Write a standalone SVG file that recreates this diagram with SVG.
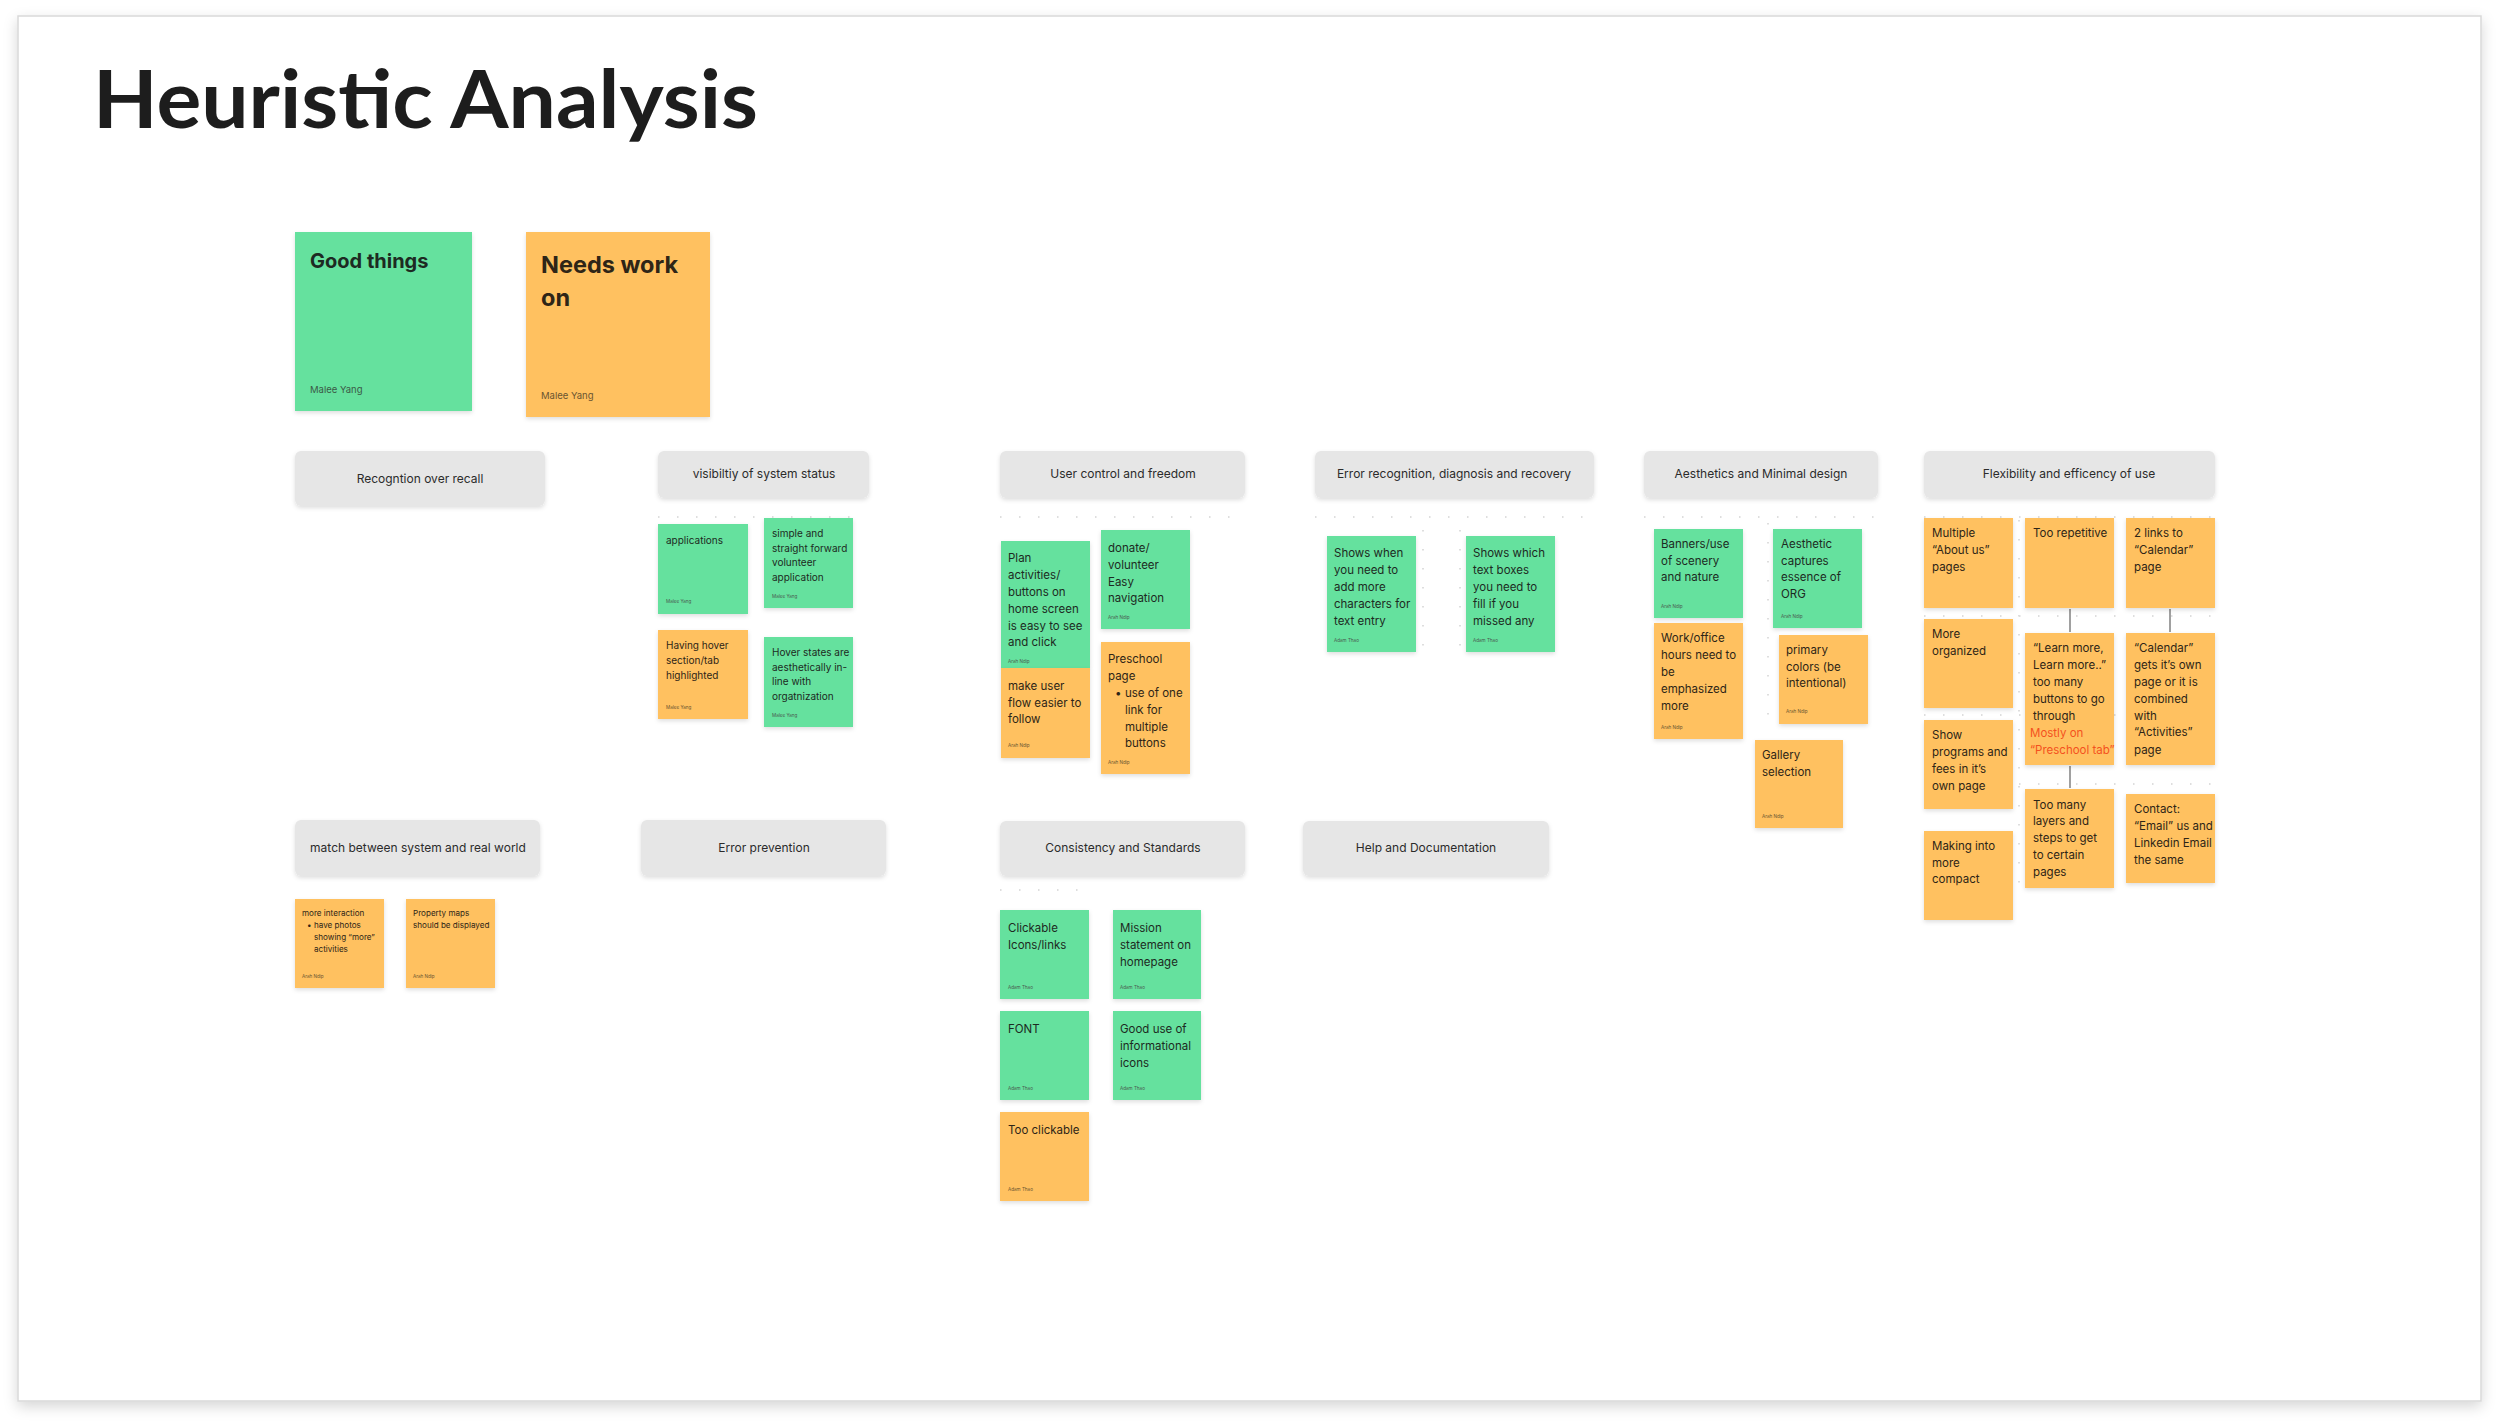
<svg xmlns="http://www.w3.org/2000/svg" width="2500" height="1422" viewBox="0 0 2500 1422">
<defs>
<filter id="fs" x="-20%" y="-20%" width="140%" height="140%"><feDropShadow dx="0" dy="5" stdDeviation="7" flood-color="#000" flood-opacity="0.16"/></filter>
<filter id="ss" x="-20%" y="-20%" width="140%" height="150%"><feDropShadow dx="0" dy="2" stdDeviation="2" flood-color="#000" flood-opacity="0.13"/></filter>
<style>
.g{fill:#65e19e;filter:url(#ss)}
.o{fill:#ffc161;filter:url(#ss)}
.h{fill:#e6e6e6;filter:url(#ss)}
text{font-family:Inter,"Noto Sans","Liberation Sans",sans-serif}
.ht{font-size:12px;fill:#2b2b2b;text-anchor:middle}
.tg{font-size:11.5px;fill:#1d2a22;transform:translateY(3px)}
.to{font-size:11.5px;fill:#2e2517;transform:translateY(3px)}
.sg{font-size:10px;fill:#1d2a22;transform:translateY(2px)}
.so{font-size:10px;fill:#2e2517;transform:translateY(2px)}
.xo{font-size:8.1px;fill:#2e2517;transform:translateY(1px)}
.au{font-size:4.6px;fill:#4a5a4f}
.auo{font-size:4.6px;fill:#6b5530}
.red{fill:#f4511e}
.dots{stroke:#dedede;stroke-width:2;stroke-dasharray:1.5 17.5;fill:none}
.conn{stroke:#a0a0a0;stroke-width:2;fill:none}
</style>
</defs>
<rect width="2500" height="1422" fill="#ffffff"/>
<rect x="18" y="16" width="2463" height="1385" fill="#ffffff" stroke="#d9d9d9" stroke-width="1.5" filter="url(#fs)"/>
<text x="93" y="128" font-family="Lato,'Liberation Sans',sans-serif" font-weight="700" font-size="80" fill="#1d1d1d" textLength="665" lengthAdjust="spacingAndGlyphs" style="font-family:Lato,'Liberation Sans',sans-serif">Heuristic Analysis</text>

<g id="dotgrid">
<path class="dots" d="M658 517H853M1000 517H1235M1315 517H1595M1644 517H1880M1924 517H2215M1000 827H1245M295 827H540M1000 890H1090M1924 616H2215M1924 715H2215M1924 784H2215M1768 523V730M1423 530V660M1460 530V660M2019 520V900"/>
</g>

<g id="legend-good"><rect x="295" y="232" width="177" height="179" class="g"/><text x="310" y="268" font-size="20" font-weight="700" fill="#1d2a22">Good things</text><text x="310" y="393" font-size="9.5" fill="#3b5a47">Malee Yang</text></g>
<g id="legend-needs"><rect x="526" y="232" width="184" height="185" class="o"/><text font-size="23.5" font-weight="700" fill="#2e2517"><tspan x="541" y="273">Needs work</tspan><tspan x="541" y="306">on</tspan></text><text x="541" y="399" font-size="9.5" fill="#6b5530">Malee Yang</text></g>

<g id="h-recognition"><rect x="295" y="451" width="250" height="55" rx="6" class="h"/><text x="420" y="483" class="ht">Recogntion over recall</text></g>
<g id="h-visibility"><rect x="658" y="451" width="211" height="47" rx="6" class="h"/><text x="764" y="478" class="ht">visibiltiy of system status</text></g>
<g id="h-usercontrol"><rect x="1000" y="451" width="245" height="47" rx="6" class="h"/><text x="1123" y="478" class="ht">User control and freedom</text></g>
<g id="h-error-rec"><rect x="1315" y="451" width="279" height="47" rx="6" class="h"/><text x="1454" y="478" class="ht">Error recognition, diagnosis and recovery</text></g>
<g id="h-aesthetics"><rect x="1644" y="451" width="234" height="47" rx="6" class="h"/><text x="1761" y="478" class="ht">Aesthetics and Minimal design</text></g>
<g id="h-flex"><rect x="1924" y="451" width="291" height="47" rx="6" class="h"/><text x="2069" y="478" class="ht">Flexibility and efficency of use</text></g>
<g id="h-match"><rect x="295" y="820" width="245" height="56" rx="6" class="h"/><text x="418" y="852" class="ht">match between system and real world</text></g>
<g id="h-errprev"><rect x="641" y="820" width="245" height="56" rx="6" class="h"/><text x="764" y="852" class="ht">Error prevention</text></g>
<g id="h-consistency"><rect x="1000" y="821" width="245" height="55" rx="6" class="h"/><text x="1123" y="852" class="ht">Consistency and Standards</text></g>
<g id="h-help"><rect x="1303" y="821" width="246" height="55" rx="6" class="h"/><text x="1426" y="852" class="ht">Help and Documentation</text></g>

<g id="s-applications"><rect x="658" y="524" width="90" height="90" class="g"/><text x="666" y="542" class="sg">applications</text><text x="666" y="603" class="au">Malee Yang</text></g>
<g id="s-simple"><rect x="764" y="518" width="89" height="90" class="g"/><text class="sg"><tspan x="772" y="535">simple and</tspan><tspan x="772" y="550">straight forward</tspan><tspan x="772" y="564">volunteer</tspan><tspan x="772" y="579">application</tspan></text><text x="772" y="598" class="au">Malee Yang</text></g>
<g id="s-hover"><rect x="658" y="630" width="90" height="89" class="o"/><text class="so"><tspan x="666" y="647">Having hover</tspan><tspan x="666" y="662">section/tab</tspan><tspan x="666" y="677">highlighted</tspan></text><text x="666" y="709" class="auo">Malee Yang</text></g>
<g id="s-hoverstates"><rect x="764" y="637" width="89" height="90" class="g"/><text class="sg"><tspan x="772" y="654">Hover states are</tspan><tspan x="772" y="669">aesthetically in-</tspan><tspan x="772" y="683">line with</tspan><tspan x="772" y="698">orgatnization</tspan></text><text x="772" y="717" class="au">Malee Yang</text></g>

<g id="s-plan"><rect x="1001" y="541" width="89" height="127" class="g"/><text class="tg"><tspan x="1008" y="559">Plan</tspan><tspan x="1008" y="576">activities/</tspan><tspan x="1008" y="593">buttons on</tspan><tspan x="1008" y="610">home screen</tspan><tspan x="1008" y="627">is easy to see</tspan><tspan x="1008" y="643">and click</tspan></text><text x="1008" y="663" class="au">Arah Ndip</text></g>
<g id="s-flow"><rect x="1001" y="668" width="89" height="90" class="o"/><text class="to"><tspan x="1008" y="687">make user</tspan><tspan x="1008" y="704">flow easier to</tspan><tspan x="1008" y="720">follow</tspan></text><text x="1008" y="747" class="auo">Arah Ndip</text></g>
<g id="s-donate"><rect x="1101" y="530" width="89" height="99" class="g"/><text class="tg"><tspan x="1108" y="549">donate/</tspan><tspan x="1108" y="566">volunteer</tspan><tspan x="1108" y="583">Easy</tspan><tspan x="1108" y="599">navigation</tspan></text><text x="1108" y="619" class="au">Arah Ndip</text></g>
<g id="s-preschool"><rect x="1101" y="642" width="89" height="132" class="o"/><text class="to"><tspan x="1108" y="660">Preschool</tspan><tspan x="1108" y="677">page</tspan><tspan x="1115" y="694">•</tspan><tspan x="1125" y="694">use of one</tspan><tspan x="1125" y="711">link for</tspan><tspan x="1125" y="728">multiple</tspan><tspan x="1125" y="744">buttons</tspan></text><text x="1108" y="764" class="auo">Arah Ndip</text></g>

<g id="s-showswhen"><rect x="1327" y="536" width="89" height="116" class="g"/><text class="tg"><tspan x="1334" y="554">Shows when</tspan><tspan x="1334" y="571">you need to</tspan><tspan x="1334" y="588">add more</tspan><tspan x="1334" y="605">characters for</tspan><tspan x="1334" y="622">text entry</tspan></text><text x="1334" y="642" class="au">Adam Thao</text></g>
<g id="s-showswhich"><rect x="1466" y="536" width="89" height="116" class="g"/><text class="tg"><tspan x="1473" y="554">Shows which</tspan><tspan x="1473" y="571">text boxes</tspan><tspan x="1473" y="588">you need to</tspan><tspan x="1473" y="605">fill if you</tspan><tspan x="1473" y="622">missed any</tspan></text><text x="1473" y="642" class="au">Adam Thao</text></g>

<g id="s-banners"><rect x="1654" y="529" width="89" height="89" class="g"/><text class="tg"><tspan x="1661" y="545">Banners/use</tspan><tspan x="1661" y="562">of scenery</tspan><tspan x="1661" y="578">and nature</tspan></text><text x="1661" y="608" class="au">Arah Ndip</text></g>
<g id="s-aesthetic"><rect x="1773" y="529" width="89" height="99" class="g"/><text class="tg"><tspan x="1781" y="545">Aesthetic</tspan><tspan x="1781" y="562">captures</tspan><tspan x="1781" y="578">essence of</tspan><tspan x="1781" y="595">ORG</tspan></text><text x="1781" y="618" class="au">Arah Ndip</text></g>
<g id="s-work"><rect x="1654" y="623" width="89" height="116" class="o"/><text class="to"><tspan x="1661" y="639">Work/office</tspan><tspan x="1661" y="656">hours need to</tspan><tspan x="1661" y="673">be</tspan><tspan x="1661" y="690">emphasized</tspan><tspan x="1661" y="707">more</tspan></text><text x="1661" y="729" class="auo">Arah Ndip</text></g>
<g id="s-primary"><rect x="1779" y="635" width="89" height="89" class="o"/><text class="to"><tspan x="1786" y="651">primary</tspan><tspan x="1786" y="668">colors (be</tspan><tspan x="1786" y="684">intentional)</tspan></text><text x="1786" y="713" class="auo">Arah Ndip</text></g>
<g id="s-gallery"><rect x="1755" y="740" width="88" height="88" class="o"/><text class="to"><tspan x="1762" y="756">Gallery</tspan><tspan x="1762" y="773">selection</tspan></text><text x="1762" y="818" class="auo">Arah Ndip</text></g>

<g id="connectors">
<path class="conn" d="M2070 609V632M2170 609V632M2070 766V788"/>
</g>

<g id="s-multiple"><rect x="1924" y="518" width="89" height="90" class="o"/><text class="to"><tspan x="1932" y="534">Multiple</tspan><tspan x="1932" y="551">“About us”</tspan><tspan x="1932" y="568">pages</tspan></text></g>
<g id="s-repetitive"><rect x="2025" y="518" width="89" height="90" class="o"/><text class="to"><tspan x="2033" y="534">Too repetitive</tspan></text></g>
<g id="s-2links"><rect x="2126" y="518" width="89" height="90" class="o"/><text class="to"><tspan x="2134" y="534">2 links to</tspan><tspan x="2134" y="551">“Calendar”</tspan><tspan x="2134" y="568">page</tspan></text></g>
<g id="s-organized"><rect x="1924" y="619" width="89" height="89" class="o"/><text class="to"><tspan x="1932" y="635">More</tspan><tspan x="1932" y="652">organized</tspan></text></g>
<g id="s-learnmore"><rect x="2025" y="633" width="89" height="132" class="o"/><text class="to"><tspan x="2033" y="649">“Learn more,</tspan><tspan x="2033" y="666">Learn more..”</tspan><tspan x="2033" y="683">too many</tspan><tspan x="2033" y="700">buttons to go</tspan><tspan x="2033" y="717">through</tspan><tspan x="2030" y="734" class="red">Mostly on</tspan><tspan x="2030" y="751" class="red">“Preschool tab”</tspan></text></g>
<g id="s-calendar"><rect x="2126" y="633" width="89" height="132" class="o"/><text class="to"><tspan x="2134" y="649">“Calendar”</tspan><tspan x="2134" y="666">gets it’s own</tspan><tspan x="2134" y="683">page or it is</tspan><tspan x="2134" y="700">combined</tspan><tspan x="2134" y="717">with</tspan><tspan x="2134" y="733">“Activities”</tspan><tspan x="2134" y="751">page</tspan></text></g>
<g id="s-programs"><rect x="1924" y="720" width="89" height="89" class="o"/><text class="to"><tspan x="1932" y="736">Show</tspan><tspan x="1932" y="753">programs and</tspan><tspan x="1932" y="770">fees in it’s</tspan><tspan x="1932" y="787">own page</tspan></text></g>
<g id="s-layers"><rect x="2025" y="789" width="89" height="99" class="o"/><text class="to"><tspan x="2033" y="806">Too many</tspan><tspan x="2033" y="822">layers and</tspan><tspan x="2033" y="839">steps to get</tspan><tspan x="2033" y="856">to certain</tspan><tspan x="2033" y="873">pages</tspan></text></g>
<g id="s-compact"><rect x="1924" y="831" width="89" height="89" class="o"/><text class="to"><tspan x="1932" y="847">Making into</tspan><tspan x="1932" y="864">more</tspan><tspan x="1932" y="880">compact</tspan></text></g>
<g id="s-contact"><rect x="2126" y="794" width="89" height="89" class="o"/><text class="to"><tspan x="2134" y="810">Contact:</tspan><tspan x="2134" y="827">“Email” us and</tspan><tspan x="2134" y="844">Linkedin Email</tspan><tspan x="2134" y="861">the same</tspan></text></g>

<g id="s-interaction"><rect x="295" y="899" width="89" height="89" class="o"/><text class="xo"><tspan x="302" y="915">more interaction</tspan><tspan x="307" y="927">•</tspan><tspan x="314" y="927">have photos</tspan><tspan x="314" y="939">showing “more”</tspan><tspan x="314" y="951">activities</tspan></text><text x="302" y="978" class="auo">Arah Ndip</text></g>
<g id="s-maps"><rect x="406" y="899" width="89" height="89" class="o"/><text class="xo"><tspan x="413" y="915">Property maps</tspan><tspan x="413" y="927">should be displayed</tspan></text><text x="413" y="978" class="auo">Arah Ndip</text></g>

<g id="s-clickable"><rect x="1000" y="910" width="89" height="89" class="g"/><text class="tg"><tspan x="1008" y="929">Clickable</tspan><tspan x="1008" y="946">Icons/links</tspan></text><text x="1008" y="989" class="au">Adam Thao</text></g>
<g id="s-mission"><rect x="1113" y="910" width="88" height="89" class="g"/><text class="tg"><tspan x="1120" y="929">Mission</tspan><tspan x="1120" y="946">statement on</tspan><tspan x="1120" y="963">homepage</tspan></text><text x="1120" y="989" class="au">Adam Thao</text></g>
<g id="s-font"><rect x="1000" y="1011" width="89" height="89" class="g"/><text class="tg"><tspan x="1008" y="1030">FONT</tspan></text><text x="1008" y="1090" class="au">Adam Thao</text></g>
<g id="s-icons"><rect x="1113" y="1011" width="88" height="89" class="g"/><text class="tg"><tspan x="1120" y="1030">Good use of</tspan><tspan x="1120" y="1047">informational</tspan><tspan x="1120" y="1064">icons</tspan></text><text x="1120" y="1090" class="au">Adam Thao</text></g>
<g id="s-tooclickable"><rect x="1000" y="1112" width="89" height="89" class="o"/><text class="to"><tspan x="1008" y="1131">Too clickable</tspan></text><text x="1008" y="1191" class="auo">Adam Thao</text></g>
</svg>
